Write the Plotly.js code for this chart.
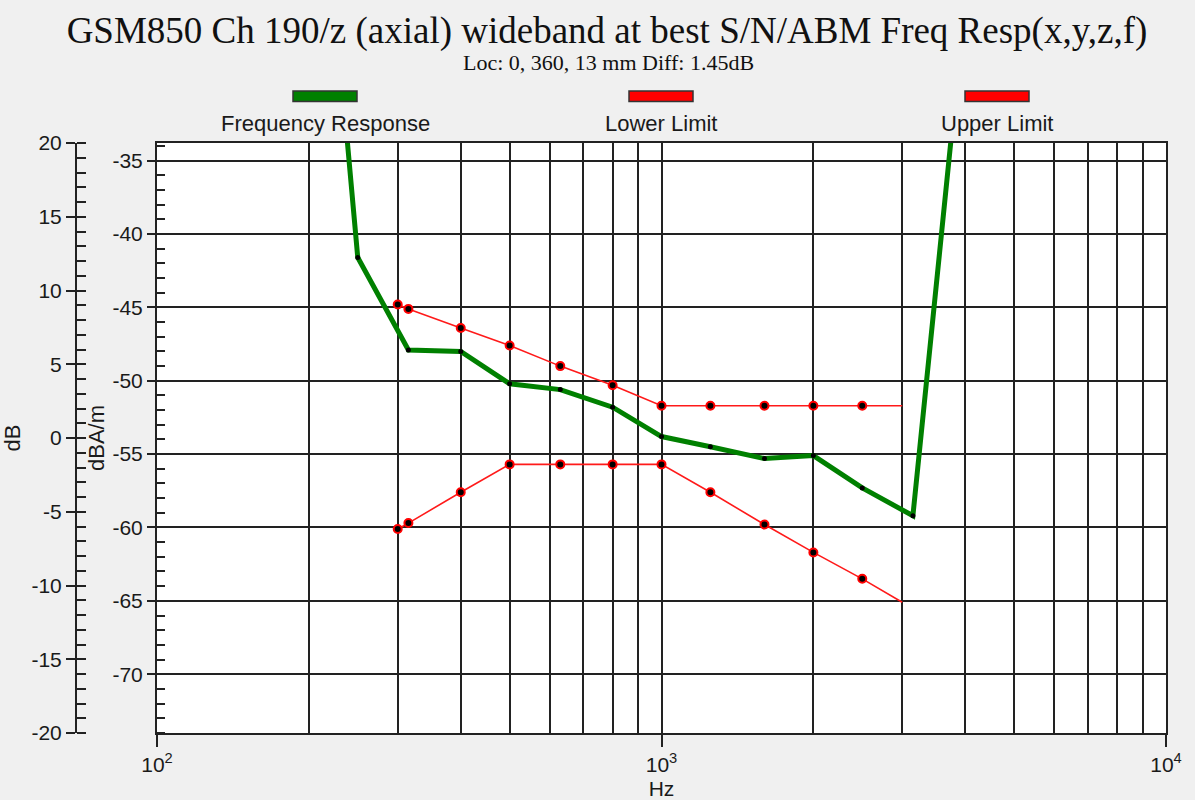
<!DOCTYPE html>
<html>
<head>
<meta charset="utf-8">
<script src="https://cdn.plot.ly/plotly-3.0.1.min.js"></script>
<style>
html,body{margin:0;padding:0;background:#f0f0f0;}
#chart{width:1195px;height:800px;}
</style>
</head>
<body>
<div id="chart"></div>
<script>
// ---- data ----
const respFreq = [200, 250, 315, 400, 500, 630, 800, 1000, 1250, 1600, 2000, 2500, 3150, 4000];
const respVal  = [-4.5, -41.6, -47.9, -48.0, -50.2, -50.6, -51.8, -53.8, -54.5, -55.3, -55.1, -57.3, -59.2, -24.0];

const limitFreq = [300, 315, 400, 500, 630, 800, 1000, 1250, 1600, 2000, 2500, 3000];
const lowerVal  = [-60.1, -59.7, -57.6, -55.7, -55.7, -55.7, -55.7, -57.6, -59.8, -61.7, -63.5, -65.1];
const upperVal  = [-44.8, -45.1, -46.4, -47.6, -49.0, -50.3, -51.7, -51.7, -51.7, -51.7, -51.7, -51.7];

const seriesNames = ['Frequency Response', 'Lower Limit', 'Upper Limit'];

const xTickVals = [100, 1000, 10000];
const xTickText = ['10<sup>2</sup>', '10<sup>3</sup>', '10<sup>4</sup>'];
const xMinorVals = [200, 300, 400, 500, 600, 700, 800, 900, 2000, 3000, 4000, 5000, 6000, 7000, 8000, 9000];

const dbaTickVals = [-35, -40, -45, -50, -55, -60, -65, -70];
const dbaTickText = ['-35', '-40', '-45', '-50', '-55', '-60', '-65', '-70'];
const dbTickVals = [20, 15, 10, 5, 0, -5, -10, -15, -20];
const dbTickText = ['20', '15', '10', '5', '0', '-5', '-10', '-15', '-20'];

const titleText = 'GSM850 Ch 190/z (axial) wideband at best S/N/ABM Freq Resp(x,y,z,f)';
const subtitleText = 'Loc: 0, 360, 13 mm Diff: 1.45dB';

// ---- layout geometry ----
const W = 1195, H = 800;
const M = {l: 20, r: 29, t: 143, b: 67};
const plotW = W - M.l - M.r, plotH = H - M.t - M.b;
const px = x => (x - M.l) / plotW;          // pixel -> paper x
const py = y => (H - M.b - y) / plotH;      // pixel -> paper y

const SANS = '"Liberation Sans", Arial, sans-serif';
const SERIF = '"Liberation Serif", "Times New Roman", serif';
const INK = '#1a1a1a';
const GRID = '#222';

const lastNoMarker = n => Array.from({length: n}, (_, i) => i === n - 1 ? 0 : 8);

const limitMarker = {
  color: '#000', opacity: 1, size: lastNoMarker(limitFreq.length),
  line: {color: '#ff0000', width: 2}
};

const traces = [
  {
    x: respFreq, y: respVal, name: seriesNames[0], type: 'scatter', mode: 'lines+markers',
    line: {color: '#008000', width: 5},
    marker: {color: '#000', size: 5},
    hoverinfo: 'skip', showlegend: false
  },
  {
    x: limitFreq, y: lowerVal, name: seriesNames[1], type: 'scatter', mode: 'lines+markers',
    line: {color: '#ff1a1a', width: 1.6},
    marker: limitMarker,
    hoverinfo: 'skip', showlegend: false
  },
  {
    x: limitFreq, y: upperVal, name: seriesNames[2], type: 'scatter', mode: 'lines+markers',
    line: {color: '#ff1a1a', width: 1.6},
    marker: limitMarker,
    hoverinfo: 'skip', showlegend: false
  },
  { // carries the dB axis
    x: [xTickVals[0]], y: [null], yaxis: 'y2', type: 'scatter', mode: 'lines',
    hoverinfo: 'skip', showlegend: false
  }
];

// legend drawn as swatch above text, like the reference
const swatchColors = ['#008000', '#ff0000', '#ff0000'];
const swatchX = [293, 629, 965];
const shapes = [], annotations = [];
seriesNames.forEach((n, i) => {
  shapes.push({
    type: 'rect', xref: 'paper', yref: 'paper',
    x0: px(swatchX[i]), x1: px(swatchX[i] + 64), y0: py(101.5), y1: py(91),
    fillcolor: swatchColors[i], line: {color: '#333', width: 1.5}
  });
  annotations.push({
    xref: 'paper', yref: 'paper', x: px(swatchX[i] + 32), y: py(124),
    xanchor: 'center', yanchor: 'middle', showarrow: false, text: n,
    font: {family: SANS, size: 22, color: INK}
  });
});
annotations.push({
  xref: 'paper', yref: 'paper', x: px(608), y: py(62),
  xanchor: 'center', yanchor: 'middle', showarrow: false, text: subtitleText,
  font: {family: SERIF, size: 22, color: '#111'}
});

const layout = {
  width: W, height: H,
  margin: M,
  paper_bgcolor: '#f0f0f0', plot_bgcolor: '#ffffff',
  showlegend: false,
  font: {family: SANS, color: INK},
  title: {
    text: titleText, xref: 'container', yref: 'container',
    x: 607 / W, y: 1 - 30 / H, xanchor: 'center', yanchor: 'middle',
    font: {family: SERIF, size: 37, color: '#111'}
  },
  xaxis: {
    type: 'log', range: [2, 4], domain: [px(157), 1], anchor: 'y',
    tickmode: 'array', tickvals: xTickVals, ticktext: xTickText,
    ticks: 'outside', ticklen: 12, tickwidth: 2, tickcolor: GRID,
    showgrid: true, gridcolor: GRID, gridwidth: 2,
    minor: {tickmode: 'array', tickvals: xMinorVals, showgrid: true, gridcolor: GRID, gridwidth: 2, ticks: ''},
    showline: true, linecolor: GRID, linewidth: 2, mirror: true,
    zeroline: false, tickfont: {family: SANS, size: 21, color: INK},
    title: {text: 'Hz', font: {family: SANS, size: 21, color: INK}, standoff: 6}
  },
  yaxis: {
    range: [-74.01, -33.79], anchor: 'x', side: 'left',
    tickmode: 'array', tickvals: dbaTickVals, ticktext: dbaTickText,
    ticks: 'outside', ticklen: 8, tickwidth: 2, tickcolor: GRID,
    minor: {tickmode: 'linear', tick0: 0, dtick: 1, ticks: 'inside', ticklen: 8, tickwidth: 2, tickcolor: GRID, showgrid: false},
    showgrid: true, gridcolor: GRID, gridwidth: 2,
    showline: true, linecolor: GRID, linewidth: 2, mirror: true,
    zeroline: false, tickfont: {family: SANS, size: 21, color: INK},
    title: {text: 'dBA/m', font: {family: SANS, size: 22, color: INK}, standoff: 2}
  },
  yaxis2: {
    range: [-20, 20], overlaying: 'y', anchor: 'free', position: px(76), side: 'left',
    tickmode: 'array', tickvals: dbTickVals, ticktext: dbTickText,
    ticks: 'outside', ticklen: 9, tickwidth: 2, tickcolor: GRID,
    minor: {tickmode: 'linear', tick0: 0, dtick: 1, ticks: 'inside', ticklen: 9, tickwidth: 2, tickcolor: GRID, showgrid: false},
    showgrid: false, zeroline: false,
    showline: true, linecolor: GRID, linewidth: 2,
    tickfont: {family: SANS, size: 21, color: INK},
    title: {text: 'dB', font: {family: SANS, size: 22, color: INK}, standoff: 6}
  },
  shapes: shapes,
  annotations: annotations
};

Plotly.newPlot('chart', traces, layout, {displayModeBar: false, staticPlot: true});
</script>
</body>
</html>
